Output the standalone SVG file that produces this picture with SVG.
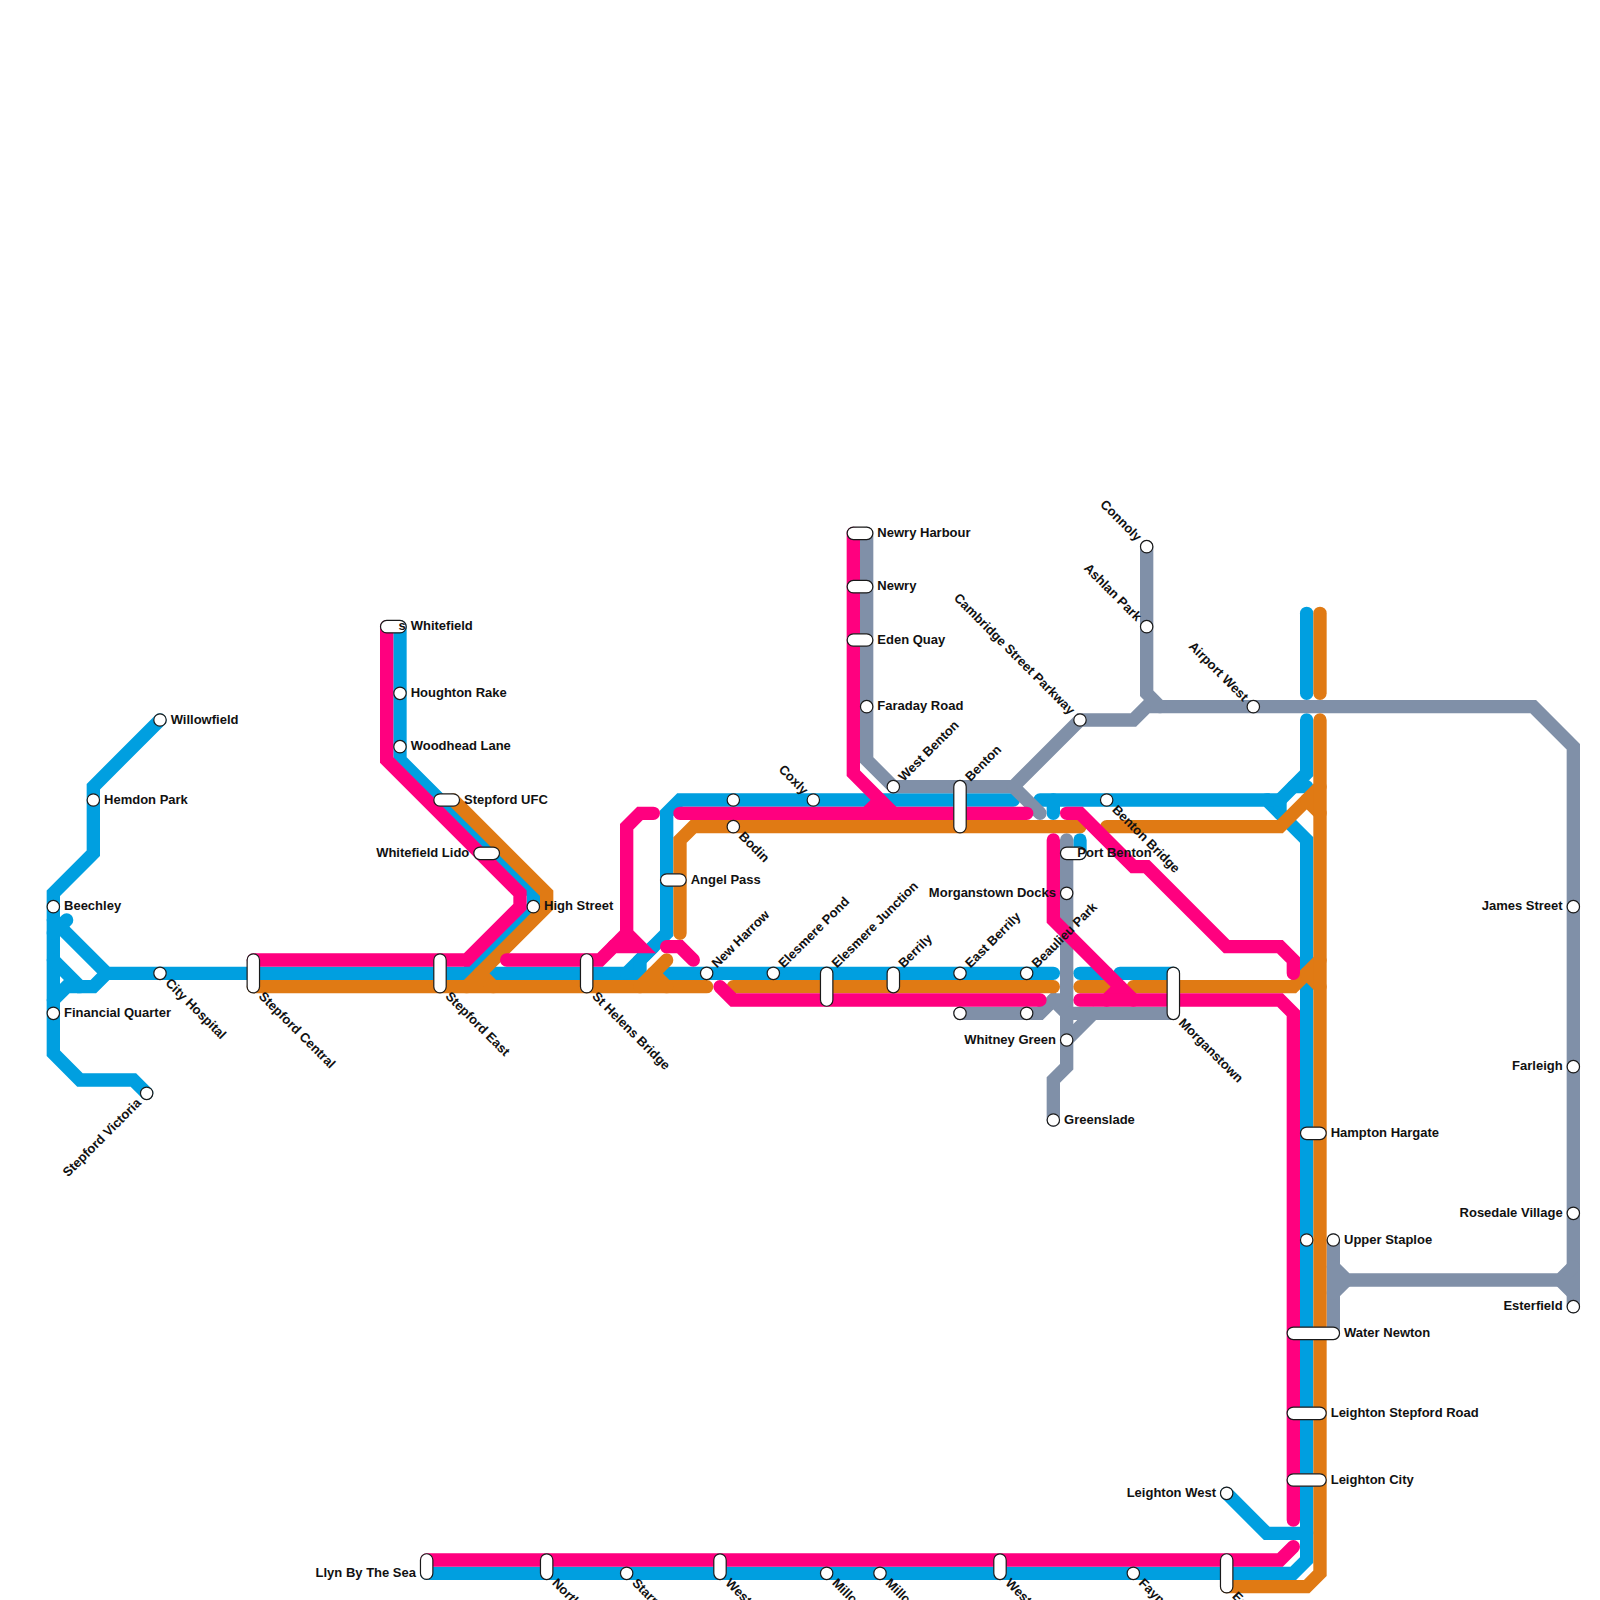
<svg xmlns="http://www.w3.org/2000/svg" width="1600" height="1600" viewBox="0 0 1600 1600">
<style>
.bl{stroke:#009fe0}.gr{stroke:#8090a8}.or{stroke:#e07a14}.pk{stroke:#ff007f}
#connectors polyline{fill:none;stroke-width:1;stroke-linecap:round;stroke-linejoin:miter}
circle,rect{fill:#fff;stroke:#1a1a1a;stroke-width:1.2}
text{font-family:"Liberation Sans",Arial,sans-serif;font-size:13px;font-weight:bold;fill:#111}
.e{text-anchor:end}
</style>
<rect width="1600" height="1600" style="fill:#fff;stroke:none"/>
<g id="connectors" transform="scale(13.33333)">
<g class="bl">
<polyline points="12,54 7,59 7,64 4,67 4,79 6,81 10,81 11,82"/>
<polyline points="4,69 8,73 19,73 35,73 40,68 40,67 30,57 30,47"/>
<polyline points="4,70 5,69"/>
<polyline points="4,72 6,74 7,74 8,73"/>
<polyline points="6,74 5,74 4,75"/>
<polyline points="37,73 48,73"/>
<polyline points="47,73 50,70 50,61 51,60 76,60"/>
<polyline points="48,73 48,72 49,71"/>
<polyline points="50,73 79,73"/>
<polyline points="81,73 83,73"/>
<polyline points="84,73 88,73"/>
<polyline points="78,60 95,60 98,63 98,117 97,118 32,118"/>
<polyline points="79,60 79,61"/>
<polyline points="95,60 96,60 96,61"/>
<polyline points="96,60 98,58 98,54"/>
<polyline points="97,59 98,59"/>
<polyline points="98,46 98,52"/>
<polyline points="81,63 81,64"/>
<polyline points="92,112 95,115 98,115"/>
</g>
<g class="gr">
<polyline points="65,40 65,57 67,59 76,59 81,54 85,54 86,53 115,53 118,56 118,98"/>
<polyline points="76,59 78,61"/>
<polyline points="86,41 86,52 87,53"/>
<polyline points="80,63 80,80 79,81 79,84"/>
<polyline points="72,76 78,76 79,75 80,76 88,76"/>
<polyline points="79,75 80,75"/>
<polyline points="80,78 82,76"/>
<polyline points="100,93 100,100"/>
<polyline points="100,95 101,96 117,96 118,95"/>
<polyline points="100,97 101,96"/>
<polyline points="117,96 118,97"/>
</g>
<g class="or">
<polyline points="34,60 41,67 41,68 35,74"/>
<polyline points="19,74 53,74"/>
<polyline points="36,73 37,74"/>
<polyline points="48,74 50,72"/>
<polyline points="49,73 50,74"/>
<polyline points="51,70 51,63 52,62 81,62"/>
<polyline points="55,74 79,74"/>
<polyline points="81,74 83,74"/>
<polyline points="85,74 97,74 99,72"/>
<polyline points="83,62 96,62 99,59"/>
<polyline points="98,60 99,61"/>
<polyline points="98,73 99,74"/>
<polyline points="99,46 99,52"/>
<polyline points="99,54 99,118 98,119 92,119"/>
</g>
<g class="pk">
<polyline points="29,47 29,57 39,67 39,68 35,72 19,72"/>
<polyline points="38,72 45,72 46,71 48,71 47,70 47,62 48,61 49,61"/>
<polyline points="47,70 46,71"/>
<polyline points="51,61 77,61"/>
<polyline points="64,40 64,58 67,61"/>
<polyline points="65,61 66,60"/>
<polyline points="50,71 51,71 52,72"/>
<polyline points="54,74 55,75 78,75"/>
<polyline points="79,63 79,69 85,75"/>
<polyline points="83,75 84,74"/>
<polyline points="81,75 96,75 97,76 97,114"/>
<polyline points="80,61 81,61 85,65 86,65 92,71 96,71 97,72 97,73"/>
<polyline points="97,116 96,117 32,117"/>
</g>
</g>
<g id="nodes">
<g id="n-willowfield" transform="translate(160 720)"><circle r="6.2"/><text x="10.7" y="3.5">Willowfield</text></g>
<g id="n-hemdon" transform="translate(93.33 800)"><circle r="6.2"/><text x="10.7" y="3.5">Hemdon Park</text></g>
<g id="n-beechley" transform="translate(53.33 906.67)"><circle r="6.2"/><text x="10.7" y="3.5">Beechley</text></g>
<g id="n-financial" transform="translate(53.33 1013.33)"><circle r="6.2"/><text x="10.7" y="3.5">Financial Quarter</text></g>
<g id="n-cityhospital" transform="translate(160 973.33)"><circle r="6.2"/><text transform="rotate(45)" x="10.7" y="4">City Hospital</text></g>
<g id="n-victoria" transform="translate(146.67 1093.33)"><circle r="6.2"/><text class="e" transform="rotate(-45)" x="-10.7" y="4">Stepford Victoria</text></g>
<g id="n-stepcentral" transform="translate(253.33 980)"><rect x="-6.2" y="-26.2" width="12.4" height="39.1" rx="6.2"/><text transform="translate(0 6.67) rotate(45)" x="10.7" y="4">Stepford Central</text></g>
<g id="n-stepeast" transform="translate(440 980)"><rect x="-6.2" y="-26.2" width="12.4" height="39.1" rx="6.2"/><text transform="translate(0 6.67) rotate(45)" x="10.7" y="4">Stepford East</text></g>
<g id="n-whitefield" transform="translate(400 626.67)"><rect x="-19.5" y="-6.2" width="25.7" height="12.4" rx="6.2"/><text x="-1.5" y="3.5">s</text><text x="10.7" y="3.5">Whitefield</text></g>
<g id="n-houghton" transform="translate(400 693.33)"><circle r="6.2"/><text x="10.7" y="3.5">Houghton Rake</text></g>
<g id="n-woodhead" transform="translate(400 746.67)"><circle r="6.2"/><text x="10.7" y="3.5">Woodhead Lane</text></g>
<g id="n-ufc" transform="translate(453.33 800)"><rect x="-19.5" y="-6.2" width="25.7" height="12.4" rx="6.2"/><text x="10.7" y="3.5">Stepford UFC</text></g>
<g id="n-lido" transform="translate(480 853.33)"><rect x="-6.2" y="-6.2" width="25.7" height="12.4" rx="6.2"/><text class="e" x="-10.7" y="3.5">Whitefield Lido</text></g>
<g id="n-high" transform="translate(533.33 906.67)"><circle r="6.2"/><text x="10.7" y="3.5">High Street</text></g>
<g id="n-sthelens" transform="translate(586.67 986.67)"><rect x="-6.2" y="-32.9" width="12.4" height="39.1" rx="6.2"/><text transform="rotate(45)" x="10.7" y="4">St Helens Bridge</text></g>
<g id="n-angel" transform="translate(680 880)"><rect x="-19.5" y="-6.2" width="25.7" height="12.4" rx="6.2"/><text x="10.7" y="3.5">Angel Pass</text></g>
<g id="n-newharrow" transform="translate(706.67 973.33)"><circle r="6.2"/><text transform="rotate(-45)" x="10.7" y="4">New Harrow</text></g>
<g id="n-unnamed1" transform="translate(733.33 800)"><circle r="6.2"/></g>
<g id="n-bodin" transform="translate(733.33 826.67)"><circle r="6.2"/><text transform="rotate(45)" x="10.7" y="4">Bodin</text></g>
<g id="n-coxly" transform="translate(813.33 800)"><circle r="6.2"/><text class="e" transform="rotate(45)" x="-10.7" y="4">Coxly</text></g>
<g id="n-pond" transform="translate(773.33 973.33)"><circle r="6.2"/><text transform="rotate(-45)" x="10.7" y="4">Elesmere Pond</text></g>
<g id="n-junction" transform="translate(826.67 973.33)"><rect x="-6.2" y="-6.2" width="12.4" height="39.1" rx="6.2"/><text transform="rotate(-45)" x="10.7" y="4">Elesmere Junction</text></g>
<g id="n-berrily" transform="translate(893.33 973.33)"><rect x="-6.2" y="-6.2" width="12.4" height="25.7" rx="6.2"/><text transform="rotate(-45)" x="10.7" y="4">Berrily</text></g>
<g id="n-eastberrily" transform="translate(960 973.33)"><circle r="6.2"/><text transform="rotate(-45)" x="10.7" y="4">East Berrily</text></g>
<g id="n-beaulieu" transform="translate(1026.67 973.33)"><circle r="6.2"/><text transform="rotate(-45)" x="10.7" y="4">Beaulieu Park</text></g>
<g id="n-unnamed2" transform="translate(960 1013.33)"><circle r="6.2"/></g>
<g id="n-unnamed3" transform="translate(1026.67 1013.33)"><circle r="6.2"/></g>
<g id="n-harbour" transform="translate(866.67 533.33)"><rect x="-19.5" y="-6.2" width="25.7" height="12.4" rx="6.2"/><text x="10.7" y="3.5">Newry Harbour</text></g>
<g id="n-newry" transform="translate(866.67 586.67)"><rect x="-19.5" y="-6.2" width="25.7" height="12.4" rx="6.2"/><text x="10.7" y="3.5">Newry</text></g>
<g id="n-eden" transform="translate(866.67 640)"><rect x="-19.5" y="-6.2" width="25.7" height="12.4" rx="6.2"/><text x="10.7" y="3.5">Eden Quay</text></g>
<g id="n-faraday" transform="translate(866.67 706.67)"><circle r="6.2"/><text x="10.7" y="3.5">Faraday Road</text></g>
<g id="n-westbenton" transform="translate(893.33 786.67)"><circle r="6.2"/><text transform="rotate(-45)" x="10.7" y="4">West Benton</text></g>
<g id="n-benton" transform="translate(960 786.67)"><rect x="-6.2" y="-6.2" width="12.4" height="52.4" rx="6.2"/><text transform="rotate(-45)" x="10.7" y="4">Benton</text></g>
<g id="n-cambridge" transform="translate(1080 720)"><circle r="6.2"/><text class="e" transform="rotate(45)" x="-10.7" y="4">Cambridge Street Parkway</text></g>
<g id="n-connoly" transform="translate(1146.67 546.67)"><circle r="6.2"/><text class="e" transform="rotate(45)" x="-10.7" y="4">Connoly</text></g>
<g id="n-ashlan" transform="translate(1146.67 626.67)"><circle r="6.2"/><text class="e" transform="rotate(45)" x="-10.7" y="4">Ashlan Park</text></g>
<g id="n-airport" transform="translate(1253.33 706.67)"><circle r="6.2"/><text class="e" transform="rotate(45)" x="-10.7" y="4">Airport West</text></g>
<g id="n-bentonbridge" transform="translate(1106.67 800)"><circle r="6.2"/><text transform="rotate(45)" x="10.7" y="4">Benton Bridge</text></g>
<g id="n-portbenton" transform="translate(1066.67 853.33)"><rect x="-6.2" y="-6.2" width="25.7" height="12.4" rx="6.2"/><text x="10.7" y="3.5">Port Benton</text></g>
<g id="n-docks" transform="translate(1066.67 893.33)"><circle r="6.2"/><text class="e" x="-10.7" y="3.5">Morganstown Docks</text></g>
<g id="n-whitney" transform="translate(1066.67 1040)"><circle r="6.2"/><text class="e" x="-10.7" y="3.5">Whitney Green</text></g>
<g id="n-greenslade" transform="translate(1053.33 1120)"><circle r="6.2"/><text x="10.7" y="3.5">Greenslade</text></g>
<g id="n-morganstown" transform="translate(1173.33 1013.33)"><rect x="-6.2" y="-46.2" width="12.4" height="52.4" rx="6.2"/><text transform="rotate(45)" x="10.7" y="4">Morganstown</text></g>
<g id="n-james" transform="translate(1573.33 906.67)"><circle r="6.2"/><text class="e" x="-10.7" y="3.5">James Street</text></g>
<g id="n-farleigh" transform="translate(1573.33 1066.67)"><circle r="6.2"/><text class="e" x="-10.7" y="3.5">Farleigh</text></g>
<g id="n-rosedale" transform="translate(1573.33 1213.33)"><circle r="6.2"/><text class="e" x="-10.7" y="3.5">Rosedale Village</text></g>
<g id="n-esterfield" transform="translate(1573.33 1306.67)"><circle r="6.2"/><text class="e" x="-10.7" y="3.5">Esterfield</text></g>
<g id="n-hampton" transform="translate(1320 1133.33)"><rect x="-19.5" y="-6.2" width="25.7" height="12.4" rx="6.2"/><text x="10.7" y="3.5">Hampton Hargate</text></g>
<g id="n-unnamed4" transform="translate(1306.67 1240)"><circle r="6.2"/></g>
<g id="n-upper" transform="translate(1333.33 1240)"><circle r="6.2"/><text x="10.7" y="3.5">Upper Staploe</text></g>
<g id="n-water" transform="translate(1333.33 1333.33)"><rect x="-46.2" y="-6.2" width="52.4" height="12.4" rx="6.2"/><text x="10.7" y="3.5">Water Newton</text></g>
<g id="n-stepfordroad" transform="translate(1320 1413.33)"><rect x="-32.9" y="-6.2" width="39.1" height="12.4" rx="6.2"/><text x="10.7" y="3.5">Leighton Stepford Road</text></g>
<g id="n-city" transform="translate(1320 1480)"><rect x="-32.9" y="-6.2" width="39.1" height="12.4" rx="6.2"/><text x="10.7" y="3.5">Leighton City</text></g>
<g id="n-leightonwest" transform="translate(1226.67 1493.33)"><circle r="6.2"/><text class="e" x="-10.7" y="3.5">Leighton West</text></g>
<g id="n-llyn" transform="translate(426.67 1566.67)"><rect x="-6.2" y="-12.9" width="12.4" height="25.7" rx="6.2"/><text class="e" x="-10.7" y="10.2">Llyn By The Sea</text></g>
<g id="n-north" transform="translate(546.67 1573.33)"><rect x="-6.2" y="-19.5" width="12.4" height="25.7" rx="6.2"/><text transform="rotate(45)" x="10.7" y="4">North</text></g>
<g id="n-starr" transform="translate(626.67 1573.33)"><circle r="6.2"/><text transform="rotate(45)" x="10.7" y="4">Starr</text></g>
<g id="n-west1" transform="translate(720 1573.33)"><rect x="-6.2" y="-19.5" width="12.4" height="25.7" rx="6.2"/><text transform="rotate(45)" x="10.7" y="4">West</text></g>
<g id="n-millc1" transform="translate(826.67 1573.33)"><circle r="6.2"/><text transform="rotate(45)" x="10.7" y="4">Millc</text></g>
<g id="n-millc2" transform="translate(880 1573.33)"><circle r="6.2"/><text transform="rotate(45)" x="10.7" y="4">Millc</text></g>
<g id="n-west2" transform="translate(1000 1573.33)"><rect x="-6.2" y="-19.5" width="12.4" height="25.7" rx="6.2"/><text transform="rotate(45)" x="10.7" y="4">West</text></g>
<g id="n-faym" transform="translate(1133.33 1573.33)"><circle r="6.2"/><text transform="rotate(45)" x="10.7" y="4">Faym</text></g>
<g id="n-es" transform="translate(1226.67 1586.67)"><rect x="-6.2" y="-32.9" width="12.4" height="39.1" rx="6.2"/><text transform="rotate(45)" x="10.7" y="4">Es</text></g>
</g>
</svg>
